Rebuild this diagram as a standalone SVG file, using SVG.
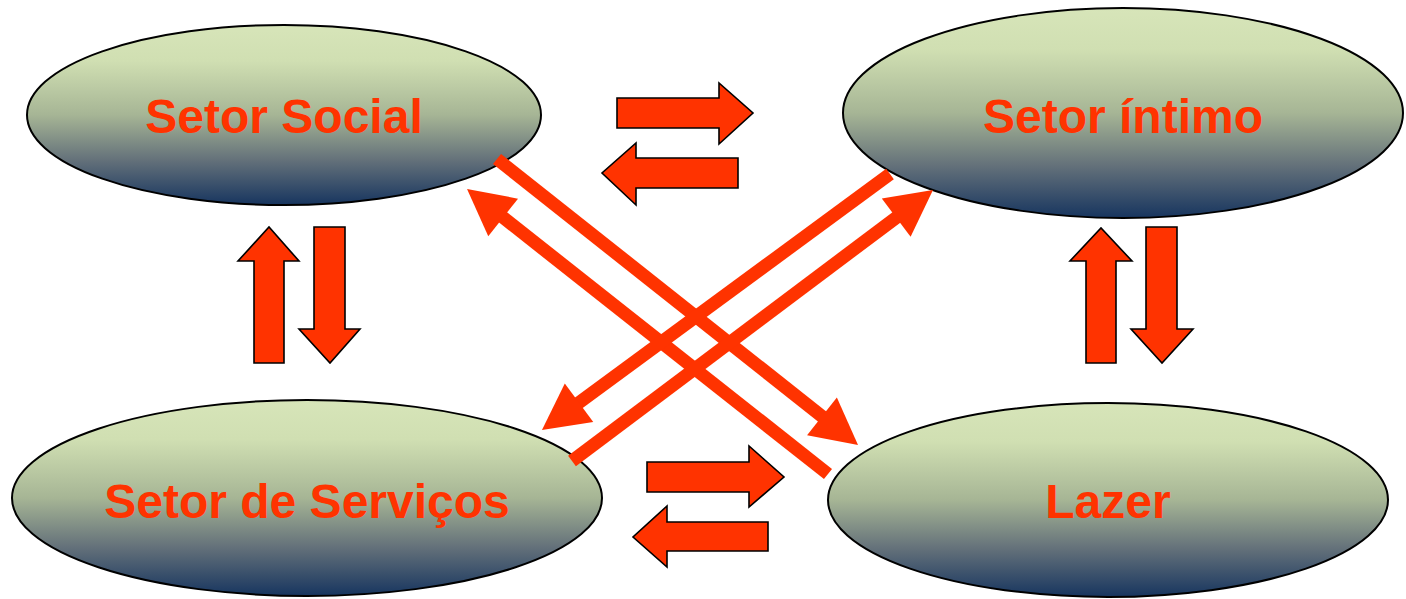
<svg xmlns="http://www.w3.org/2000/svg" width="1406" height="599" viewBox="0 0 1406 599">
  <defs>
    <linearGradient id="g" x1="0" y1="0" x2="0" y2="1">
      <stop offset="0" stop-color="#D7E5B9"/>
      <stop offset="0.2" stop-color="#D0DFB2"/>
      <stop offset="0.5" stop-color="#A6B595"/>
      <stop offset="0.75" stop-color="#64717A"/>
      <stop offset="1" stop-color="#17355F"/>
    </linearGradient>
    <marker id="head" viewBox="-2 -26 50 52" markerWidth="50" markerHeight="52" markerUnits="userSpaceOnUse" refX="4" refY="0" orient="auto">
      <path d="M0,-24 L46,0 L0,24 Z" fill="#FF3300"/>
    </marker>
    <style>
      .node ellipse { fill: url(#g); stroke: #000; stroke-width: 2; }
      .node text { font-family: "Liberation Sans", Arial, sans-serif; font-weight: bold; font-size: 48px; fill: #FF3300; text-anchor: middle; }
      .block { fill: #FF3300; stroke: #000; stroke-width: 1.6; stroke-linejoin: miter; }
      .diag { stroke: #FF3300; stroke-width: 13; fill: none; stroke-linecap: butt; marker-end: url(#head); }
    </style>
  </defs>
  <rect width="1406" height="599" fill="#FFFFFF"/>

  <g id="node-social" class="node">
    <ellipse cx="284" cy="115" rx="257" ry="90"/>
    <text x="284" y="133">Setor Social</text>
  </g>
  <g id="node-intimo" class="node">
    <ellipse cx="1123" cy="113" rx="280" ry="105"/>
    <text x="1123" y="133">Setor íntimo</text>
  </g>
  <g id="node-servicos" class="node">
    <ellipse cx="307" cy="498" rx="295" ry="98"/>
    <text x="307" y="518">Setor de Serviços</text>
  </g>
  <g id="node-lazer" class="node">
    <ellipse cx="1108" cy="500" rx="280" ry="97"/>
    <text x="1108" y="518">Lazer</text>
  </g>

  <g id="connectors">
    <!-- top horizontal pair -->
    <polygon class="block" points="617,98 719,98 719,83 753,113 719,144 719,128 617,128"/>
    <polygon class="block" points="738,158 636,158 636,143 602,173 636,205 636,188 738,188"/>
    <!-- bottom horizontal pair -->
    <polygon class="block" points="647,462 749,462 749,446 784,477 749,507 749,492 647,492"/>
    <polygon class="block" points="768,522 667,522 667,506 633,537 667,567 667,551 768,551"/>
    <!-- left vertical pair -->
    <polygon class="block" points="254,363 254,261 238,261 269,227 299,261 284,261 284,363"/>
    <polygon class="block" points="314,227 345,227 345,329 360,329 330,363 299,329 314,329"/>
    <!-- right vertical pair -->
    <polygon class="block" points="1086,363 1086,261 1070,261 1101,228 1132,261 1116,261 1116,363"/>
    <polygon class="block" points="1146,227 1177,227 1177,329 1193,329 1162,363 1131,329 1146,329"/>
    <!-- diagonals -->
    <line class="diag" x1="497" y1="159" x2="825.1" y2="418.9"/>
    <line class="diag" x1="828" y1="474" x2="500" y2="215"/>
    <line class="diag" x1="890" y1="174" x2="575.8" y2="405.1"/>
    <line class="diag" x1="572" y1="461" x2="899.4" y2="215.2"/>
  </g>
</svg>
